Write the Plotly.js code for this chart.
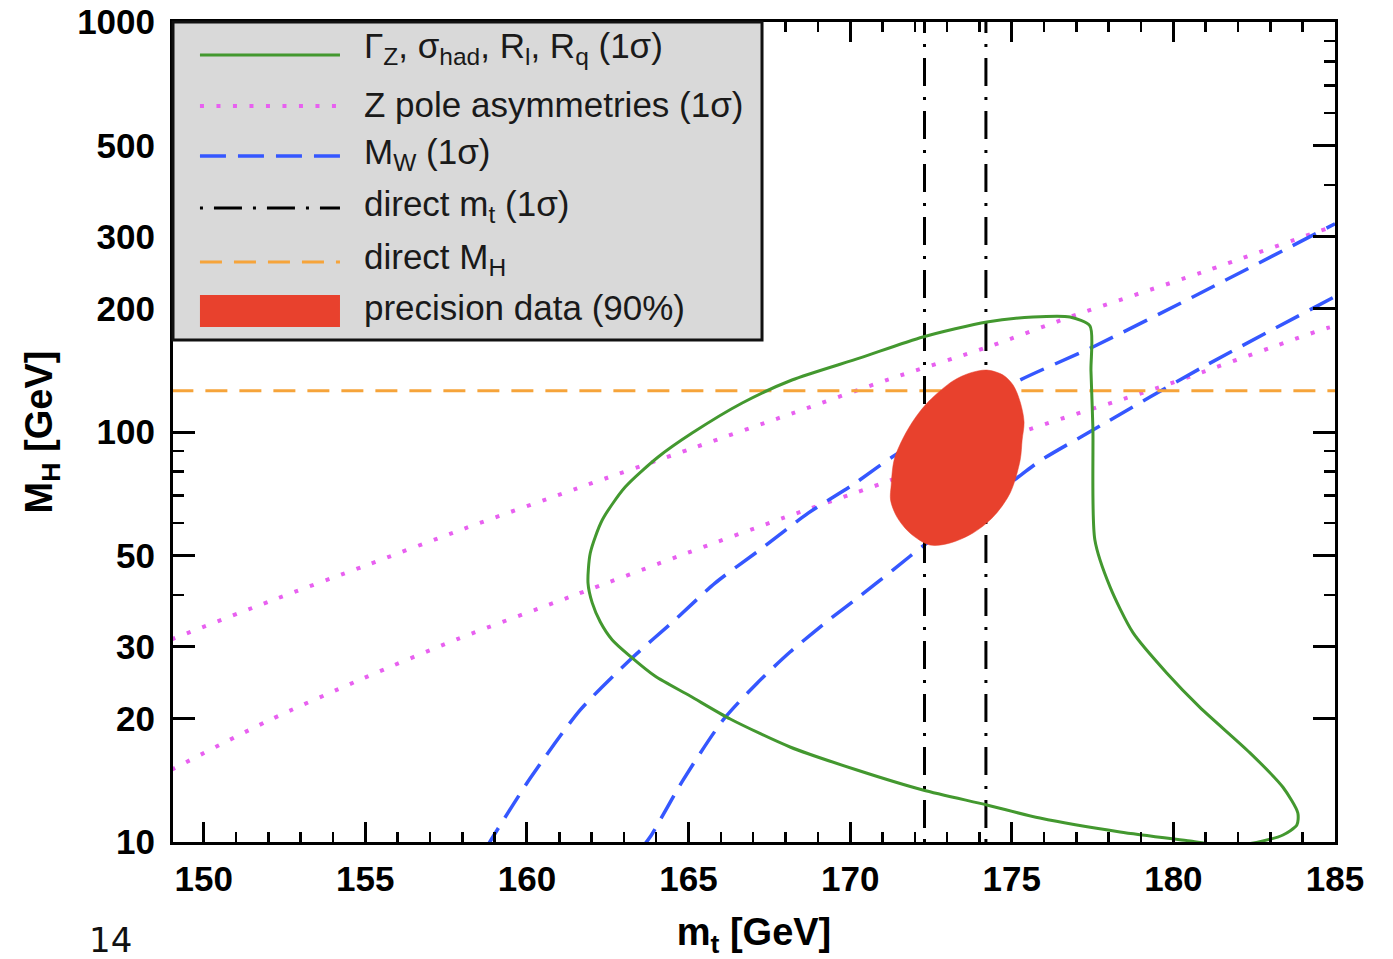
<!DOCTYPE html>
<html>
<head>
<meta charset="utf-8">
<script src="https://cdn.plot.ly/plotly-3.0.1.min.js"></script>
<style>html,body{margin:0;padding:0;background:#fff;}#chart{width:1393px;height:959px;}</style>
</head>
<body>
<div id="chart"></div>
<script>
// ---- data (m_t in GeV, M_H in GeV) ----
// Gamma_Z, sigma_had, R_l, R_q (1 sigma) contour
const greenX = [177.42,176.80,175.66,174.23,172.25,170.31,168.20,166.66,165.11,164.06,163.04,162.33,161.96,161.89,162.02,162.27,162.64,163.19,163.96,165.05,166.29,168.14,170.21,172.25,174.23,175.87,178.35,180.52,181.75,182.77,183.39,183.82,183.85,183.39,182.37,180.82,179.80,178.75,178.04,177.57,177.51,177.45,177.42];
const greenY = [181.4,190.8,190.8,185.5,170.5,151.6,133.9,117.7,99.4,86.9,73.4,61.0,50.7,42.8,38.3,34.4,31.1,28.4,25.4,22.7,19.95,17.05,14.98,13.39,12.31,11.44,10.58,10.06,9.78,10.06,10.4,11.0,11.77,13.6,16.5,21.3,25.8,32.4,41.9,54.6,102.3,141.0,181.4];
// Z pole asymmetries (1 sigma) band edges
const zUpX = [149.0,152.06,155.06,158.03,161.58,165.14,168.23,171.23,174.26,176.80,180.91,184.44,185.0];
const zUpY = [31.2,38.7,47.4,58.0,73.0,91.4,111.2,134.7,161.2,190.8,245.6,307.5,318];
const zLoX = [149.0,151.96,154.90,157.87,161.40,164.96,167.93,171.02,175.48,179.59,184.76,185.0];
const zLoY = [15.0,19.7,25.0,31.3,39.8,50.7,61.7,75.1,101.1,128.8,179.3,181];
// M_W (1 sigma) band edges
const wUpX = [158.7,158.95,160.10,161.65,163.25,164.58,165.82,167.28,168.70,170.10,171.30,174.95,177.51,180.60,185.0];
const wUpY = [9.56,10.3,14.3,21.0,28.1,34.8,42.8,52.1,63.4,74.5,86.9,130.2,161.2,213.5,322];
const wLoX = [163.5,163.81,164.83,166.07,167.12,168.14,169.22,170.30,171.33,172.25,175.16,175.87,177.51,180.91,185.0];
const wLoY = [9.56,10.28,14.16,19.85,24.4,29.06,34.2,39.8,46.1,52.7,77.2,85.0,101.1,144.0,214];
// direct m_t (1 sigma) and direct M_H
const mtDirect = [172.3, 174.2];
const mhDirect = 126;
// precision data (90%) contour
const ellX = [174.23,174.73,175.04,175.26,175.38,175.32,175.26,174.95,174.42,173.80,173.09,172.47,171.85,171.45,171.25,171.27,171.36,171.64,172.01,172.44,173.18,173.71,174.23];
const ellY = [141.6,137.7,130.2,118.4,105.8,95.6,85.5,71.0,62.0,56.7,53.6,53.0,56.7,62.0,68.2,74.3,85.5,96.7,108.2,119.0,133.2,139.3,141.6];
// axes
const xTicks = [150,155,160,165,170,175,180,185];
const yTicks = [10,20,30,50,100,200,300,500,1000];
const yMinor = [40,60,70,80,90,400,600,700,800,900];
const legendLabels = [
  'Γ<sub>Z</sub>, σ<sub>had</sub>, R<sub>l</sub>, R<sub>q</sub> (1σ)',
  'Z pole asymmetries (1σ)',
  'M<sub>W</sub> (1σ)',
  'direct m<sub>t</sub> (1σ)',
  'direct M<sub>H</sub>',
  'precision data (90%)'
];

// ---- styles ----
const FONT = 'Liberation Sans, Arial, Helvetica, sans-serif';
const C_GREEN = '#43982f', C_MAG = '#e860f0', C_BLUE = '#3557ff', C_ORANGE = '#f6a43a', C_RED = '#e8412d';
const S_GREEN = {color:C_GREEN, width:3};
const S_MAG = {color:C_MAG, width:4, dash:'4px,12.5px'};
const S_BLUE = {color:C_BLUE, width:3.5, dash:'26px,12px'};
const S_DD = {color:'#000', width:3, dash:'3px,11px,28px,11px'};
const S_OR = {color:C_ORANGE, width:3, dash:'22px,12px'};
const sp = (s, k) => Object.assign({shape:'spline', smoothing:k}, s);

const traces = [
  {x:zUpX, y:zUpY, mode:'lines', line:sp(S_MAG, 0.8), hoverinfo:'skip'},
  {x:zLoX, y:zLoY, mode:'lines', line:sp(S_MAG, 0.8), hoverinfo:'skip'},
  {x:wUpX, y:wUpY, mode:'lines', line:sp(S_BLUE, 0.7), hoverinfo:'skip'},
  {x:wLoX, y:wLoY, mode:'lines', line:sp(S_BLUE, 0.7), hoverinfo:'skip'},
  {x:[149,185], y:[mhDirect,mhDirect], mode:'lines', line:S_OR, hoverinfo:'skip'},
  {x:[mtDirect[0],mtDirect[0]], y:[10,1000], mode:'lines', line:S_DD, hoverinfo:'skip'},
  {x:[mtDirect[1],mtDirect[1]], y:[10,1000], mode:'lines', line:S_DD, hoverinfo:'skip'},
  {x:greenX, y:greenY, mode:'lines', line:sp(S_GREEN, 0.7), hoverinfo:'skip'},
  {x:ellX, y:ellY, mode:'lines', fill:'toself', fillcolor:C_RED, line:{color:C_RED, width:0.5, shape:'spline', smoothing:0.9}, hoverinfo:'skip'}
];

// ---- legend box drawn in paper coordinates ----
const L = {x0:0, x1:0.5069, y0:0.6122, y1:1.0, sx0:0.0232, sx1:0.1437, tx:0.1627};
const rowY = [0.9598, 0.8976, 0.8366, 0.7732, 0.7073];
const textY = [0.968, 0.899, 0.839, 0.775, 0.711, 0.652];
const sampleStyles = [S_GREEN, S_MAG, S_BLUE, S_DD, S_OR];
const shapes = [
  {type:'rect', xref:'paper', yref:'paper', x0:L.x0, x1:L.x1, y0:L.y0, y1:L.y1, fillcolor:'#d9d9d9', line:{color:'#111', width:3}, layer:'above'}
];
sampleStyles.forEach((s, i) => {
  shapes.push({type:'line', xref:'paper', yref:'paper', x0:L.sx0, x1:L.sx1, y0:rowY[i], y1:rowY[i], line:s, layer:'above'});
});
shapes.push({type:'rect', xref:'paper', yref:'paper', x0:L.sx0, x1:L.sx1, y0:0.6280, y1:0.6671, fillcolor:C_RED, line:{width:0}, layer:'above'});

const annotations = legendLabels.map((t, i) => ({
  text:t, xref:'paper', yref:'paper', x:L.tx, y:textY[i], xanchor:'left', yanchor:'middle',
  showarrow:false, font:{family:FONT, size:35, color:'#1a1a1a'}
}));
annotations.push({text:'14', xref:'paper', yref:'paper', x:-0.054, y:-0.1195, xanchor:'center', yanchor:'middle', showarrow:false, font:{family:'DejaVu Sans, sans-serif', size:34, color:'#111'}});

const tickFont = {family:FONT, size:35, color:'#000', weight:'bold'};
const titleFont = {family:FONT, size:38, color:'#000', weight:'bold'};
const layout = {
  width:1393, height:959,
  margin:{l:173, r:58, t:22, b:117},
  paper_bgcolor:'#fff', plot_bgcolor:'#fff',
  showlegend:false,
  xaxis:{
    range:[149.05,185], tickmode:'array', tickvals:xTicks, ticktext:xTicks.map(String),
    ticks:'inside', ticklen:20, tickwidth:3, tickcolor:'#000',
    showline:true, linewidth:3, linecolor:'#000', mirror:'ticks',
    showgrid:false, zeroline:false, tickfont:tickFont, ticklabelstandoff:4, automargin:false,
    minor:{tickmode:'linear', tick0:150, dtick:1, ticks:'inside', ticklen:10, tickwidth:2.5, tickcolor:'#000', showgrid:false},
    title:{text:'m<sub>t</sub> [GeV]', font:titleFont}
  },
  yaxis:{
    type:'log', range:[1,3], tickmode:'array', tickvals:yTicks, ticktext:yTicks.map(String),
    ticks:'inside', ticklen:22, tickwidth:3, tickcolor:'#000',
    showline:true, linewidth:3, linecolor:'#000', mirror:'ticks',
    showgrid:false, zeroline:false, tickfont:tickFont, ticklabelstandoff:8, automargin:false,
    minor:{tickmode:'array', tickvals:yMinor, ticks:'inside', ticklen:11, tickwidth:2.5, tickcolor:'#000', showgrid:false},
    title:{text:'M<sub>H</sub> [GeV]', font:titleFont, standoff:13}
  },
  shapes:shapes,
  annotations:annotations
};

Plotly.newPlot('chart', traces, layout, {staticPlot:true, displayModeBar:false});
</script>
</body>
</html>
